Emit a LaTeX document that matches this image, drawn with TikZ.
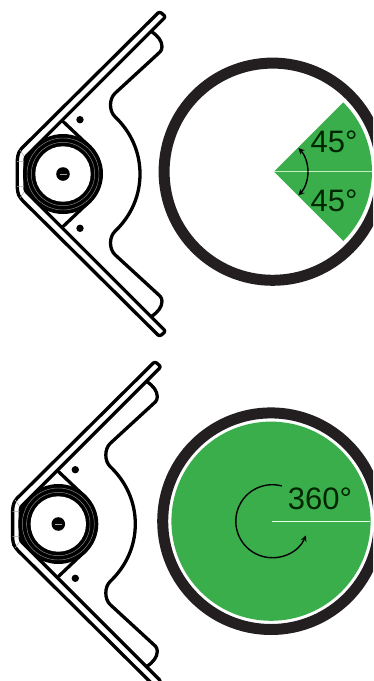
\documentclass[tikz,border=0pt]{standalone}
\usepackage{fontspec}
\setmainfont{Liberation Sans}
\usetikzlibrary{arrows.meta}
\definecolor{ringblack}{HTML}{231F20}
\definecolor{zonegreen}{HTML}{3BAE4C}
\definecolor{zoneline}{HTML}{C4EDC0}
\tikzset{
  outline/.style={draw=black,line width=3.3pt,line join=round,line cap=round},
  hairline/.style={draw=black!35,line width=0.5pt},
  ringwhite/.style={draw=black!45,line width=0.45pt},
  sweep/.style={draw=black,line width=1.4pt,-{Stealth[length=6pt,width=6pt]}},
  degree/.style={text=black!85!green,font=\fontsize{31}{31}\selectfont,inner sep=0pt},
  pics/vbracket/.style={code={
    \draw[outline,rounded corners=2.2pt] (96.5,-162.5) -- (-43,-24) [rounded corners=4pt] -- (-45.7,-18) -- (-45.7,18) -- (-43,24) [rounded corners=2.2pt] -- (96.5,162.5) -- (102.7,157.3) -- (-38,16.6) -- (-38,-16.6) -- (102.7,-157.3) -- cycle;
    \draw[outline] (88.7,-142.3) .. controls (95,-138) and (99,-133) .. (99,-127.3)
      .. controls (99,-123) and (96,-121) .. (93.7,-119) -- (52,-80.7)
      .. controls (46,-75) and (46,-63) .. (52,-57.3)
      .. controls (68,-42) and (77,-22) .. (77,0)
      .. controls (77,22) and (68,42) .. (52,57.3)
      .. controls (46,63) and (46,75) .. (52,80.7) -- (93.7,119)
      .. controls (96,121) and (99,123) .. (99,127.3)
      .. controls (99,133) and (95,138) .. (88.7,142.3);
    \draw[outline] (27,-27) -- (0.3,-52.3) (27,27) -- (0.3,52.3);
    \fill[black] (0,0) circle[radius=40pt];
    \fill[white] (0,0) circle[radius=27.7pt];
    \draw[ringwhite] (0,0) circle[radius=36pt] (0,0) circle[radius=31.7pt];
    \fill[black] (0,0) circle[radius=6.8pt];
    \draw[hairline,line width=1pt] (-3.5,0) -- (3.5,0);
    \fill[black] (17,-54.3) circle[radius=3.7pt] (17,54.3) circle[radius=3.7pt];
    \draw[hairline] (-46,-12.5) -- (-39,-12.5) (-46,12.5) -- (-39,12.5) (-43,-24) -- (-39,-18) (-43,24) -- (-39,18);
  }}
}
\begin{document}
\begin{tikzpicture}[x=1pt,y=-1pt]
\useasboundingbox (0,0) rectangle (373,681);
\clip (0,0) rectangle (373,681);
\fill[white] (0,0) rectangle (373,681);
% top device
\pic at (63,174) {vbracket};
\coordinate (apexA) at (274,171.7);
\coordinate (edgeA) at (371.7,171.7);
\draw[ringblack,line width=11pt] (272.7,171.7) circle[radius=108.6pt];
\fill[zonegreen] (apexA) -- ++(45:98pt) arc[start angle=45,end angle=-45,radius=98pt] -- cycle;
\draw[zoneline,line width=1pt] (apexA) -- (edgeA);
\draw[sweep] ([xshift=34pt]apexA) arc[start angle=0,end angle=44,radius=34pt];
\draw[sweep] ([xshift=34pt]apexA) arc[start angle=0,end angle=-44,radius=34pt];
\node[degree] (upper) at (334,141.7) {45°};
\node[degree] (lower) at (334,200.7) {45°};
% bottom device
\pic at (58.3,524) {vbracket};
\coordinate (apexB) at (272.3,521.2);
\coordinate (edgeB) at (370,521.2);
\draw[ringblack,line width=11pt] (271,521.2) circle[radius=108.3pt];
\fill[zonegreen] (271,521.2) circle[radius=99.6pt];
\draw[white!90!green,line width=1pt] (apexB) -- (edgeB);
\draw[sweep] (apexB) ++(75:36.5pt) arc[start angle=75,end angle=337,radius=36.5pt];
\node[degree] (full) at (320,499) {360°};
\end{tikzpicture}
\end{document}
